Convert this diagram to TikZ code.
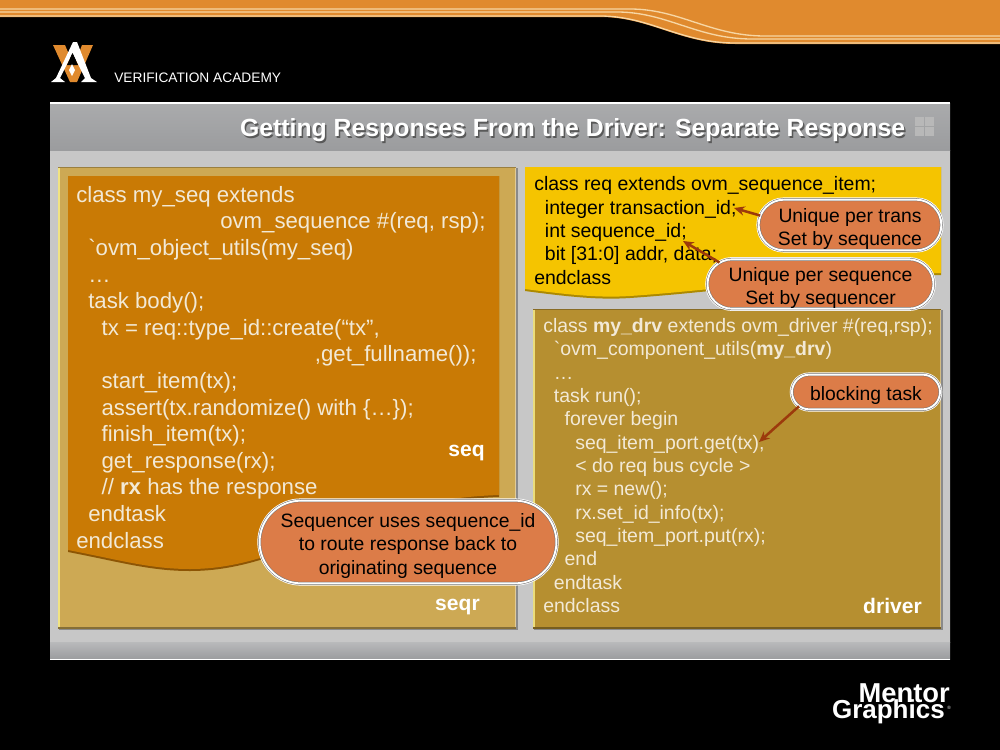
\documentclass[tikz,border=0pt]{standalone}
\usepackage{fontspec}
\setmainfont{Liberation Sans}
\newfontfamily\gravefont{Liberation Sans}
\usetikzlibrary{calc,shapes.misc,arrows.meta}
\definecolor{bandorange}{HTML}{E08A2E}
\definecolor{bandline}{HTML}{F7D6A4}
\definecolor{titlegrey}{HTML}{9B9C9E}
\definecolor{seqrfill}{HTML}{CDA954}
\definecolor{seqfill}{HTML}{C97A05}
\definecolor{reqfill}{HTML}{F5C400}
\definecolor{drvfill}{HTML}{B68F30}
\definecolor{notefill}{HTML}{DC7C48}
\definecolor{notearrow}{HTML}{9C3A0C}
\definecolor{codelight}{HTML}{F2E9D6}
\newcommand{\ind}[1]{\hspace*{#1pt}}
\newcommand{\tick}{{\gravefont\symbol{96}}}
\newcommand{\nudge}{\rule{0pt}{16.2pt}}
\newcommand{\panelBox}[5]{%
  \begin{scope}[shift={(#1, #2)}]%
    \fill[black, opacity=.3] (1, 1) rectangle (#3 + 1.5, #4 + 1.5);
    \fill[#5] (0, 0) rectangle (#3, #4);
    \draw[white!55!yellow!70!#5, line width=1.3pt] (1, #4) -- (1, 1);
    \draw[white!40!#5, line width=.8pt] (#3 - .5, #4) -- (#3 - .5, 1);
    \draw[black!25!#5, line width=.7pt] (0, 0) -- (#3, 0);
    \draw[black!35!#5, line width=1pt] (0, #4) -- (#3, #4);
  \end{scope}%
}
\tikzset{
  seqcode/.style={anchor=north west, align=left, inner sep=0pt, text=codelight,
    font=\fontsize{16.65pt}{19.95pt}\selectfont},
  smallcode/.style={anchor=north west, align=left, inner sep=0pt,
    font=\fontsize{14.6pt}{17.5pt}\selectfont},
  tag/.style={text=white, inner sep=0pt, font=\fontsize{15.8pt}{18pt}\selectfont\bfseries},
  note/.style={rounded rectangle, align=center, inner sep=0pt, fill=notefill, text=black,
    draw=black!55, line width=.4pt, double=white, double distance=1.4pt,
    preaction={draw=white, line width=3.4pt},
    font=\fontsize{14.5pt}{17.4pt}\selectfont},
  notelink/.style={-{Stealth[length=8pt, width=7pt]}, draw=notearrow, line width=1.9pt}
}
\begin{document}
\begin{tikzpicture}[x=0.75pt, y=-0.75pt]
  \useasboundingbox (0, 0) rectangle (1000, 750);
  \fill[black] (0, 0) rectangle (1000, 750);

  % top band
  \fill[bandorange] (0, 0) -- (0, 17) -- (600, 17)
    .. controls (650, 17) and (680, 44) .. (735, 44) -- (1000, 44) -- (1000, 0) -- cycle;
  \foreach \d/\s in {0/30, 3/17, 7/0}
    \draw[bandline, line width=1pt] (0, 9 + \d) -- (600 + \s, 9 + \d)
      .. controls (650 + \s, 9 + \d) and (680 + \s, 36 + \d) .. (735 + \s, 36 + \d) -- (1000, 36 + \d);

  % academy logo
  \fill[bandorange] (53, 45) -- (65, 45) -- (74, 66) -- (82, 45) -- (93, 45) -- (77, 82) -- (70, 82) -- cycle;
  \fill[white] (73, 42) -- (77, 42) -- (91, 78) -- (97, 82) -- (81, 82) -- (85, 78) -- (72.5, 53)
    -- (60, 78) -- (65, 82) -- (51, 82) -- (56, 78) -- cycle;
  \fill[black] (72.5, 53) -- (67, 65) -- (78, 65) -- cycle;
  \fill[white] (72, 64) -- (75, 70) -- (72, 76) -- (69, 70) -- cycle;
  \node[text=white, inner sep=0pt, anchor=west, font=\fontsize{10.3pt}{12pt}\selectfont]
    (academy) at (114, 78) {VERIFICATION ACADEMY};

  % slide
  \shade[top color=black!22, middle color=black!6, bottom color=black!22] (50, 150) rectangle (950, 642);
  \shade[top color=titlegrey!85!white, bottom color=titlegrey] (50, 103) rectangle (950, 150);
  \shade[top color=titlegrey!70!white, bottom color=titlegrey] (50, 642) rectangle (950, 659);
  \draw[white, line width=.8pt] (50, 103) -- (950, 103);
  \draw[white, line width=.6pt] (50, 659) -- (950, 659);
  \node[text=black!65, inner sep=0pt, anchor=east, font=\fontsize{18.6pt}{22pt}\selectfont\bfseries]
    (titleshadow) at (907, 132) {Getting Responses From the Driver: Separate Response};
  \node[text=white, inner sep=0pt, anchor=east, font=\fontsize{18.6pt}{22pt}\selectfont\bfseries]
    (title) at (905.5, 130.5) {Getting Responses From the Driver: Separate Response};
  \foreach \a/\b in {915/117, 925/117, 915/127, 925/127}
    \fill[black!28] (\a, \b) rectangle (\a + 9, \b + 9);

  % panels
  \panelBox{58}{167}{458}{461}{seqrfill}
  \panelBox{533}{309}{408}{319}{drvfill}

  % sequence and item sheets
  \fill[black!30!seqfill] (68, 176) -- (68, 552)
    .. controls (120, 562) and (150, 571) .. (190, 571)
    .. controls (290, 571) and (350, 502) .. (499, 497) -- (499, 176) -- cycle;
  \fill[seqfill] (68, 176) -- (68, 550)
    .. controls (120, 560) and (150, 569) .. (190, 569)
    .. controls (290, 569) and (350, 500) .. (499, 495) -- (499, 176) -- cycle;
  \fill[black!30!reqfill] (525, 167) -- (525, 291)
    .. controls (570, 297) and (600, 300) .. (630, 298)
    .. controls (720, 292) and (820, 276) .. (941, 275) -- (941, 167) -- cycle;
  \fill[reqfill] (525, 167) -- (525, 289)
    .. controls (570, 295) and (600, 298) .. (630, 296)
    .. controls (720, 290) and (820, 274) .. (941, 273) -- (941, 167) -- cycle;

  % code
  \node[seqcode] (seqcode) at (76, 186) {class my\_seq extends\\
    \ind{108}ovm\_sequence \#(req, rsp);\\
    \ind{9}\tick ovm\_object\_utils(my\_seq)\\
    \ind{9}…\\
    \ind{9}task body();\\
    \ind{19}tx = req::type\_id::create(“tx”,\\
    \ind{179},get\_fullname());\\
    \ind{19}start\_item(tx);\\
    \ind{19}assert(tx.randomize() with \{…\});\\
    \ind{19}finish\_item(tx);\\
    \ind{19}get\_response(rx);\\
    \ind{19}// \textbf{rx} has the response\\
    \ind{9}endtask\\
    endclass};
  \node[smallcode] (reqcode) at (534, 176.5) {class req extends ovm\_sequence\_item;\\
    \ind{8}integer transaction\_id;\\
    \ind{8}int sequence\_id;\\
    \ind{8}bit [31:0] addr, data;\\
    endclass};
  \node[smallcode, text=codelight] (drvcode) at (543, 318) {class \textbf{my\_drv} extends ovm\_driver \#(req,rsp);\\
    \ind{8}\tick ovm\_component\_utils(\textbf{my\_drv})\\
    \ind{8}…\\
    \ind{8}task run();\\
    \ind{16}forever begin\\
    \ind{24}seq\_item\_port.get(tx);\\
    \ind{24}< do req bus cycle >\\
    \ind{24}rx = new();\\
    \ind{24}rx.set\_id\_info(tx);\\
    \ind{24}seq\_item\_port.put(rx);\\
    \ind{16}end\\
    \ind{8}endtask\\
    endclass};

  \node[tag, anchor=east] (seqtag) at (485, 453) {seq};
  \node[tag, anchor=east] (seqrtag) at (480, 607) {seqr};
  \node[tag, anchor=east] (drvtag) at (922, 606) {driver};

  % notes
  \coordinate (transtip) at (734, 208);
  \coordinate (seqtip) at (683, 241);
  \coordinate (blocktip) at (759, 442);
  \node[note, minimum width=137pt, minimum height=38pt] (transnote) at (850, 225)
    {\nudge Unique per trans\\Set by sequence};
  \node[note, minimum width=168pt, minimum height=37pt] (seqnote) at (820.5, 284)
    {\nudge Unique per sequence\\Set by sequencer};
  \node[note, minimum width=111pt, minimum height=26pt] (blocknote) at (866, 392)
    {\nudge blocking task};
  \node[note, minimum width=222pt, minimum height=62pt] (routenote) at (408, 542)
    {\nudge Sequencer uses sequence\_id\\to route response back to\\originating sequence};
  \draw[notelink] (transnote.174) -- (transtip);
  \draw[notelink] (seqnote.168) -- (seqtip);
  \draw[notelink] (blocknote.192) -- (blocktip);

  % mentor logo
  \node[text=white, inner sep=0pt, anchor=base east, font=\fontsize{20.5pt}{22pt}\selectfont\bfseries]
    (mentor) at (950, 702) {Mentor};
  \node[text=white, inner sep=0pt, anchor=base east, font=\fontsize{19.5pt}{22pt}\selectfont\bfseries]
    (graphics) at (945, 718) {Graphics};
  \node[text=white, inner sep=0pt, font=\fontsize{3.5pt}{4pt}\selectfont] (regmark) at (949, 708) {®};
\end{tikzpicture}
\end{document}
